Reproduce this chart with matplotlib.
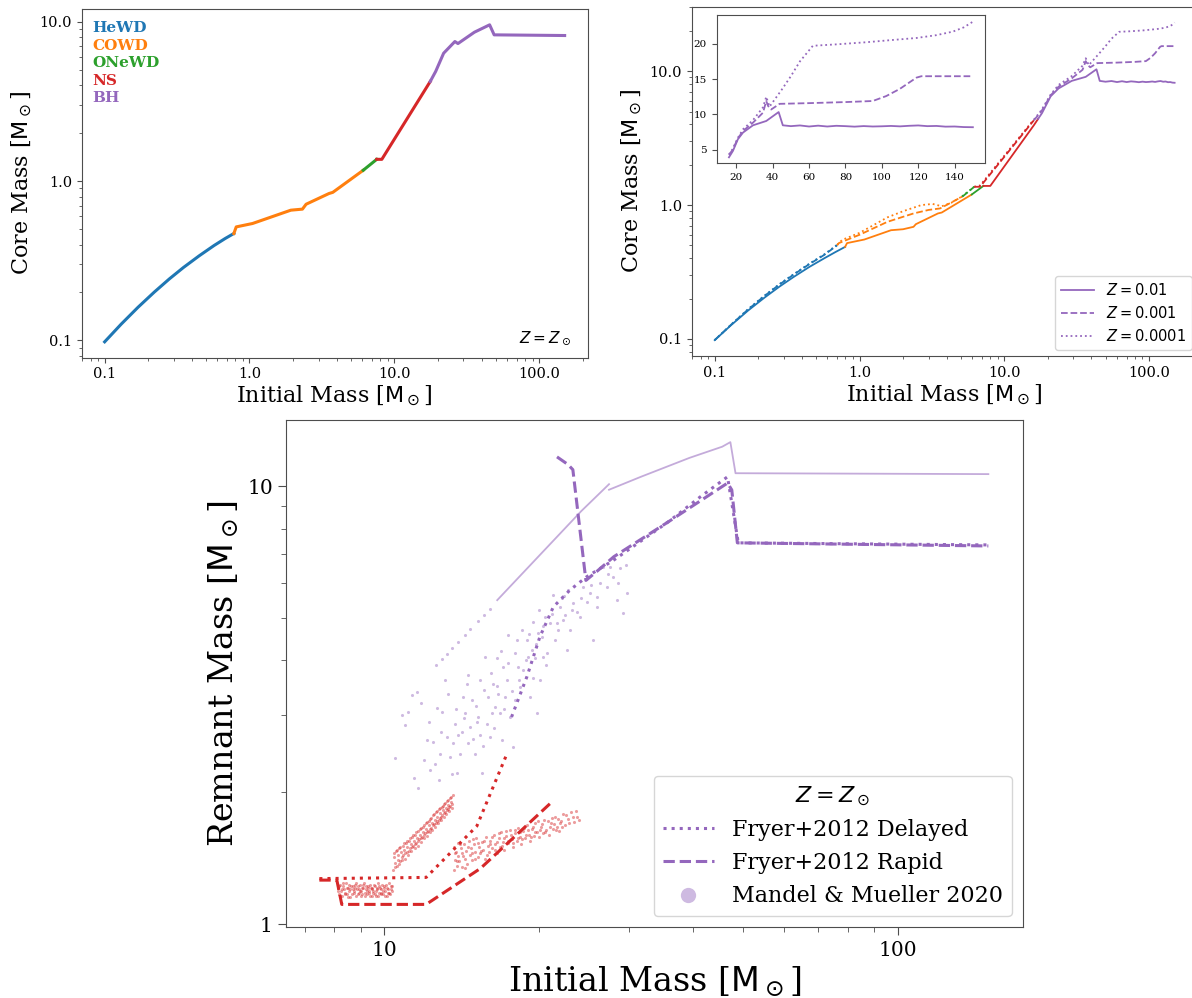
import numpy as np
import matplotlib
matplotlib.use("Agg")
import matplotlib.pyplot as plt
from matplotlib.ticker import FormatStrFormatter, FuncFormatter, NullFormatter
from matplotlib.lines import Line2D

plt.rcParams['font.family'] = ['DejaVu Serif']
plt.rcParams['mathtext.fontset'] = 'dejavusans'

# remnant types and colours
types = ['He', 'CO', 'ONe', 'NS', 'BH']
type_names = ['HeWD', 'COWD', 'ONeWD', 'NS', 'BH']
type_colors = ['C0', 'C1', 'C2', 'C3', 'C4']

# ---- top left: core mass at solar Z ----
sol_m = [0.1, 0.13, 0.17, 0.22, 0.28, 0.35, 0.45, 0.57, 0.68, 0.78,
         0.81, 1.05, 1.93, 2.32, 2.46, 3.54, 3.76, 6.1,
         7.56,
         8.2, 17.7,
         19.3, 21.9, 26.2, 27.5, 35.7, 45.5, 48.9, 150]
sol_mc = [0.098, 0.1265, 0.1615, 0.201, 0.2435, 0.287, 0.34, 0.3945, 0.4365, 0.469,
          0.516, 0.542, 0.657, 0.667, 0.716, 0.836, 0.85, 1.17,
          1.37,
          1.37, 4.22,
          4.88, 6.35, 7.52, 7.3, 8.6, 9.57, 8.28, 8.2]
sol_t = ['He'] * 10 + ['CO'] * 8 + ['ONe'] + ['NS'] * 2 + ['BH'] * 8

# ---- top right: three metallicities ----
z01_m = [0.1, 0.13, 0.17, 0.22, 0.28, 0.35, 0.45, 0.57, 0.68, 0.795,
         0.82, 1.08, 1.65, 2.0, 2.36, 2.45, 3.48, 3.7, 5.96,
         7.17,
         8.0, 16.0, 17.1,
         18.2, 20.9, 23.7, 29.2, 36.5, 43.3, 45.6,
         50, 55, 60, 65, 70, 75, 80, 85, 90, 95, 100, 105, 110, 115, 120,
         125, 130, 135, 140, 145, 150]
z01_mc = [0.098, 0.127, 0.163, 0.203, 0.246, 0.29, 0.345, 0.4, 0.445, 0.487,
          0.52, 0.553, 0.649, 0.66, 0.688, 0.72, 0.866, 0.88, 1.2,
          1.39,
          1.39, 3.95, 4.4,
          4.86, 6.5, 7.44, 8.47, 9.08, 10.34, 8.47,
          8.35, 8.45, 8.3, 8.42, 8.3, 8.4, 8.35, 8.28, 8.36, 8.3, 8.33, 8.38, 8.32, 8.4, 8.45,
          8.35, 8.38, 8.28, 8.3, 8.22, 8.2]
z01_t = ['He'] * 10 + ['CO'] * 9 + ['ONe'] + ['NS'] * 3 + ['BH'] * 28

z001_m = [0.1, 0.13, 0.17, 0.22, 0.28, 0.35, 0.45, 0.57, 0.7,
          0.72, 1.0, 1.56, 2.36, 3.0, 3.6, 5.15,
          6.2,
          6.8, 15.1, 16.0,
          18.0, 20.9, 23.7, 29.2, 34.7, 36.5, 37.5, 39.2, 43.8, 60, 80, 95,
          102.4, 109.8, 119, 121.7, 150]
z001_mc = [0.098, 0.128, 0.166, 0.209, 0.255, 0.302, 0.362, 0.424, 0.5,
           0.52, 0.6, 0.75, 0.866, 0.92, 0.944, 1.16,
           1.37,
           1.37, 3.98, 4.3,
           5.0, 6.6, 7.67, 8.84, 10.25, 11.9, 11.2, 10.7, 11.5, 11.6, 11.75, 11.9,
           12.6, 13.6, 15.2, 15.4, 15.4]
z001_t = ['He'] * 9 + ['CO'] * 7 + ['ONe'] + ['NS'] * 3 + ['BH'] * 17

z0001_m = [0.1, 0.13, 0.17, 0.22, 0.28, 0.35, 0.45, 0.57, 0.7,
           0.76, 1.0, 1.56, 2.0, 2.67, 3.2, 3.7, 4.3, 5.1,
           6.2,
           6.8, 15.0, 16.0,
           18.0, 20.9, 23.7, 29.2, 34.7, 36.5, 38.3, 45, 50, 55, 62.1, 75, 91.5,
           105, 119, 130, 139, 145, 150]
z0001_mc = [0.098, 0.128, 0.167, 0.21, 0.257, 0.304, 0.365, 0.428, 0.505,
            0.55, 0.62, 0.81, 0.9, 1.0, 1.02, 0.98, 1.04, 1.16,
            1.37,
            1.4, 4.0, 4.35,
            5.1, 6.7, 7.9, 9.2, 11.0, 12.5, 11.1, 13.5, 15.4, 17.5, 19.7, 19.9, 20.2,
            20.5, 20.8, 21.2, 21.7, 22.3, 23.1]
z0001_t = ['He'] * 9 + ['CO'] * 9 + ['ONe'] + ['NS'] * 3 + ['BH'] * 19

# ---- bottom: remnant masses ----
delayed_ns_m = [7.48, 12.07, 15.15, 17.27]
delayed_ns_r = [1.27, 1.278, 1.674, 2.42]
delayed_bh_m = [17.7, 18.96, 20.1, 21.35, 23.0, 24.8, 28.0, 35.7, 41.3, 46.6, 48.9, 150]
delayed_bh_r = [2.97, 3.67, 4.53, 5.30, 5.79, 6.21, 6.78, 8.28, 9.46, 10.5, 7.42, 7.34]
rapid_ns_m = [7.48, 8.09, 8.27, 12.07, 15.4, 21.2]
rapid_ns_r = [1.26, 1.26, 1.109, 1.109, 1.34, 1.90]
rapid_bh_m = [21.7, 22.8, 23.3, 24.7, 26.0, 28.0, 35.7, 46.6, 47.5, 48.7, 150]
rapid_bh_r = [11.66, 11.2, 10.9, 6.09, 6.4, 6.9, 8.28, 10.16, 9.8, 7.42, 7.3]

# Mandel & Mueller: full-fallback sequence
mm_line1_m = [16.6, 24.2, 27.4]
mm_line1_r = [5.49, 8.77, 10.1]
mm_line2_m = [27.4, 31.6, 39.3, 45.5, 47.2, 48.3, 150]
mm_line2_r = [9.81, 10.5, 11.6, 12.3, 12.6, 10.7, 10.65]

# Mandel & Mueller: NS samples, flat group (8-10.4 Msun)
mm_ns_flat_m = [8.12, 8.15, 8.2, 8.24, 8.27, 8.31, 8.36, 8.4, 8.43, 8.47, 8.52, 8.56, 8.6,
                8.63, 8.68, 8.72, 8.77, 8.81, 8.85, 8.9, 8.94, 8.98, 9.03, 9.07, 9.11,
                9.16, 9.2, 9.25, 9.29, 9.33, 9.38, 9.42, 9.47, 9.51, 9.56, 9.6, 9.65,
                9.7, 9.74, 9.79, 9.84, 9.88, 9.93, 9.98, 10.03, 10.08, 10.13, 10.18,
                10.24, 10.3, 10.36,
                8.13, 8.18, 8.22, 8.29, 8.33, 8.38, 8.45, 8.5, 8.54, 8.58, 8.65, 8.7,
                8.75, 8.79, 8.83, 8.88, 8.92, 8.96, 9.01, 9.05, 9.09, 9.14, 9.18, 9.23,
                9.27, 9.31, 9.36, 9.4, 9.45, 9.49, 9.53, 9.58, 9.63, 9.67, 9.72, 9.77,
                9.81, 9.86, 9.91, 9.96, 10.0, 10.06, 10.11, 10.16, 10.21, 10.27, 10.33, 10.38]
mm_ns_flat_r = [1.21, 1.17, 1.23, 1.19, 1.16, 1.22, 1.2, 1.18, 1.24, 1.17, 1.21, 1.19, 1.15,
                1.22, 1.2, 1.18, 1.23, 1.16, 1.2, 1.22, 1.18, 1.19, 1.16, 1.21, 1.23,
                1.18, 1.2, 1.17, 1.22, 1.19, 1.16, 1.21, 1.2, 1.18, 1.23, 1.17, 1.19,
                1.21, 1.16, 1.22, 1.18, 1.2, 1.17, 1.21, 1.19, 1.23, 1.16, 1.2,
                1.18, 1.22, 1.19,
                1.19, 1.22, 1.16, 1.2, 1.24, 1.17, 1.21, 1.15, 1.23, 1.2, 1.17, 1.22,
                1.19, 1.21, 1.24, 1.17, 1.2, 1.23, 1.19, 1.17, 1.21, 1.24, 1.16, 1.22,
                1.19, 1.21, 1.18, 1.23, 1.16, 1.21, 1.19, 1.22, 1.16, 1.2, 1.24, 1.18,
                1.21, 1.17, 1.23, 1.19, 1.22, 1.16, 1.21, 1.18, 1.24, 1.17, 1.2, 1.22]

# NS samples, rising group (10.4-13.6 Msun)
mm_ns_rise_m = [10.42, 10.45, 10.5, 10.53, 10.58, 10.62, 10.66, 10.7, 10.74, 10.78, 10.82,
                10.86, 10.9, 10.94, 10.98, 11.02, 11.06, 11.1, 11.14, 11.18, 11.22, 11.26,
                11.3, 11.34, 11.38, 11.42, 11.46, 11.5, 11.54, 11.58, 11.62, 11.66, 11.7,
                11.74, 11.78, 11.82, 11.86, 11.9, 11.94, 11.98, 12.02, 12.06, 12.1, 12.14,
                12.18, 12.22, 12.26, 12.3, 12.34, 12.38, 12.42, 12.46, 12.5, 12.54, 12.58,
                12.62, 12.66, 12.7, 12.74, 12.78, 12.82, 12.86, 12.9, 12.94, 12.98, 13.02,
                13.06, 13.1, 13.14, 13.18, 13.22, 13.26, 13.3, 13.34, 13.38, 13.42, 13.46,
                13.5, 13.55, 13.6,
                10.44, 10.52, 10.6, 10.68, 10.76, 10.84, 10.92, 11.0, 11.08, 11.16, 11.24,
                11.32, 11.4, 11.48, 11.56, 11.64, 11.72, 11.8, 11.88, 11.96, 12.04, 12.12,
                12.2, 12.28, 12.36, 12.44, 12.52, 12.6, 12.68, 12.76, 12.84, 12.92, 13.0,
                13.08, 13.16, 13.24, 13.32, 13.4, 13.48, 13.56]
mm_ns_rise_r = [1.33, 1.42, 1.38, 1.47, 1.36, 1.44, 1.40, 1.49, 1.39, 1.46, 1.42,
                1.51, 1.44, 1.48, 1.41, 1.53, 1.46, 1.50, 1.44, 1.55, 1.49, 1.52,
                1.47, 1.58, 1.51, 1.55, 1.49, 1.60, 1.53, 1.57, 1.51, 1.63, 1.56,
                1.60, 1.54, 1.66, 1.58, 1.62, 1.57, 1.68, 1.61, 1.65, 1.59, 1.71,
                1.63, 1.68, 1.62, 1.74, 1.66, 1.70, 1.64, 1.77, 1.69, 1.73, 1.67,
                1.80, 1.72, 1.76, 1.70, 1.83, 1.75, 1.79, 1.73, 1.85, 1.77, 1.82,
                1.76, 1.88, 1.80, 1.84, 1.78, 1.91, 1.83, 1.87, 1.81, 1.94, 1.86,
                1.90, 1.84, 1.97,
                1.45, 1.35, 1.48, 1.37, 1.50, 1.40, 1.53, 1.45, 1.55, 1.47, 1.57,
                1.50, 1.60, 1.52, 1.62, 1.55, 1.65, 1.57, 1.67, 1.60, 1.70, 1.62,
                1.72, 1.65, 1.75, 1.68, 1.78, 1.70, 1.81, 1.73, 1.84, 1.76, 1.86,
                1.79, 1.89, 1.82, 1.92, 1.85, 1.95, 1.88]

# NS samples, upper group (13.6-24 Msun)
mm_ns_high_m = [13.65, 13.7, 13.75, 13.8, 13.85, 13.9, 13.95, 14.0, 14.1, 14.15, 14.2,
                14.3, 14.35, 14.45, 14.5, 14.6, 14.7, 14.75, 14.85, 14.95, 15.0, 15.1,
                15.2, 15.3, 15.4, 15.5, 15.6, 15.7, 15.8, 15.9, 16.0, 16.1, 16.2, 16.35,
                16.45, 16.55, 16.7, 16.8, 16.9, 17.0, 17.15, 17.3, 17.4, 17.55, 17.7,
                17.8, 17.95, 18.1, 18.25, 18.4, 18.5, 18.65, 18.8, 18.95, 19.1, 19.25,
                19.4, 19.55, 19.7, 19.85, 20.0, 20.2, 20.35, 20.5, 20.7, 20.9, 21.1,
                21.3, 21.5, 21.7, 21.9, 22.1, 22.3, 22.5, 22.8, 23.1, 23.4, 23.7, 24.0,
                13.72, 13.88, 14.05, 14.25, 14.4, 14.55, 14.8, 14.9, 15.05, 15.25, 15.45,
                15.65, 15.85, 16.05, 16.25, 16.4, 16.6, 16.75, 16.95, 17.1, 17.25, 17.45,
                17.65, 17.85, 18.0, 18.2, 18.35, 18.55, 18.75, 18.9, 19.05, 19.3, 19.5,
                19.65, 19.9, 20.1, 20.3, 20.6, 20.8, 21.0, 21.2, 21.4, 21.6, 21.8, 22.0,
                22.2, 22.6, 22.9, 23.3, 23.6]
mm_ns_high_r = [1.33, 1.50, 1.40, 1.46, 1.36, 1.53, 1.43, 1.39, 1.49, 1.35, 1.45,
                1.52, 1.41, 1.47, 1.37, 1.55, 1.44, 1.49, 1.40, 1.52, 1.46, 1.57,
                1.42, 1.50, 1.45, 1.54, 1.48, 1.41, 1.58, 1.51, 1.46, 1.55, 1.49, 1.60,
                1.52, 1.45, 1.57, 1.50, 1.62, 1.54, 1.48, 1.59, 1.53, 1.64, 1.56,
                1.50, 1.61, 1.55, 1.66, 1.58, 1.52, 1.63, 1.57, 1.68, 1.60, 1.55,
                1.65, 1.59, 1.70, 1.62, 1.58, 1.67, 1.61, 1.73, 1.64, 1.60, 1.70,
                1.65, 1.76, 1.67, 1.63, 1.72, 1.78, 1.68, 1.74, 1.80, 1.71, 1.76, 1.73,
                1.45, 1.39, 1.52, 1.43, 1.34, 1.50, 1.45, 1.56, 1.41, 1.53, 1.47,
                1.55, 1.44, 1.52, 1.58, 1.48, 1.54, 1.61, 1.51, 1.57, 1.63, 1.55,
                1.60, 1.53, 1.64, 1.57, 1.62, 1.56, 1.66, 1.60, 1.64, 1.58, 1.67,
                1.62, 1.72, 1.64, 1.69, 1.62, 1.72, 1.67, 1.75, 1.69, 1.64, 1.74, 1.70,
                1.67, 1.77, 1.70, 1.76, 1.81]

# Mandel & Mueller: BH samples
mm_bh_m = [10.5, 10.82, 11.15, 11.32, 11.57, 11.66, 11.93, 12.11, 12.29, 12.47,
           12.66, 12.76, 12.85, 12.95, 13.14, 13.24, 13.44, 13.64, 13.74, 13.85,
           13.95, 14.16, 14.27, 14.38, 14.48, 14.59, 14.70, 14.81, 15.03, 15.15,
           15.26, 15.38, 15.49, 15.61, 15.72, 15.84, 16.08, 16.20, 16.32, 16.44,
           16.57, 16.69, 16.82, 16.94, 17.07, 17.20, 17.33, 17.46, 17.59, 17.85,
           17.99, 18.12, 18.26, 18.39, 18.67, 18.95, 19.09, 19.23, 19.38, 19.52,
           19.67, 19.82, 19.96, 20.11, 20.27, 20.42, 20.57, 20.73, 21.04, 21.36,
           21.51, 21.68, 22.0, 22.17, 22.33, 22.50, 22.67, 22.84, 23.01, 23.36,
           23.71, 24.06, 24.42, 24.79, 25.16, 25.54, 25.93, 26.31, 26.71, 27.12,
           27.53, 27.94, 28.36, 28.79, 29.22, 29.66,
           11.0, 11.45, 11.8, 12.2, 12.55, 12.9, 13.3, 13.55, 13.8, 14.05, 14.3,
           14.55, 14.9, 15.1, 15.35, 15.55, 15.9, 16.15, 16.35, 16.6, 16.9, 17.15,
           17.4, 17.7, 18.0, 18.3, 18.55, 18.85, 19.15, 19.45, 19.75, 20.0, 20.35,
           20.7, 21.2, 21.8, 22.4, 23.2, 24.2, 25.3, 26.0, 27.3, 28.5, 29.5,
           12.6, 12.95, 13.25, 13.54, 13.9, 14.35, 14.7, 15.2, 15.65, 16.05]
mm_bh_r = [2.39, 3.00, 3.05, 3.33, 3.39, 2.04, 2.37, 2.63, 2.25, 2.61,
           3.11, 2.13, 2.45, 3.05, 3.61, 2.68, 2.41, 2.59, 2.87, 2.21,
           2.70, 2.75, 3.30, 3.03, 3.54, 2.59, 2.82, 3.25, 2.45, 2.90,
           2.97, 2.70, 2.21, 3.42, 4.08, 2.87, 2.68, 3.03, 3.54, 3.13,
           4.04, 3.36, 3.03, 2.63, 3.87, 3.30, 3.61, 4.57, 2.97, 2.54,
           3.25, 4.45, 3.87, 3.48, 3.80, 4.45, 4.08, 3.30, 4.22, 4.90,
           4.04, 3.03, 4.61, 3.61, 4.53, 4.08, 5.03, 4.15, 4.86, 5.64,
           4.45, 4.86, 5.30, 5.54, 4.94, 5.08, 4.22, 5.79, 4.69, 5.40,
           5.17, 5.03, 5.89, 5.44, 5.69, 4.45, 5.59, 6.00, 6.54, 5.89,
           6.54, 6.21, 5.49, 6.49, 5.12, 5.69,
           2.85, 2.15, 3.2, 2.9, 2.32, 2.75, 3.35, 2.2, 3.1, 2.45, 2.95,
           3.7, 2.65, 3.15, 3.6, 2.55, 3.3, 3.75, 2.8, 3.5, 4.2, 3.1,
           3.95, 3.4, 4.15, 3.6, 4.7, 4.0, 4.6, 3.65, 4.35, 5.2, 4.8,
           3.9, 5.1, 4.7, 5.6, 5.2, 5.55, 5.95, 5.3, 6.3, 6.0, 6.6,
           3.90, 4.03, 4.13, 4.26, 4.40, 4.56, 4.71, 4.92, 5.08, 5.25]


def plot_types(ax, m, mc, kinds, **kw):
    m = np.asarray(m)
    mc = np.asarray(mc)
    kinds = np.asarray(kinds)
    for k, c in zip(types, type_colors):
        idx = np.flatnonzero(kinds == k)
        if idx.size == 0:
            continue
        if idx[0] > 0:
            idx = np.r_[idx[0] - 1, idx]
        ax.plot(m[idx], mc[idx], color=c, **kw)


def style_axes(ax, labelsize):
    for sp in ax.spines.values():
        sp.set_color('0.3')
    ax.tick_params(which='both', colors='0.3', labelcolor='k', labelsize=labelsize)


def log_fmt(ax, fmt):
    ax.xaxis.set_major_formatter(fmt)
    ax.yaxis.set_major_formatter(fmt)
    ax.xaxis.set_minor_formatter(NullFormatter())
    ax.yaxis.set_minor_formatter(NullFormatter())


fig = plt.figure(figsize=(11.92, 9.98), dpi=100)

# top left
ax1 = fig.add_axes([0.0685, 0.6416, 0.4245, 0.3494])
plot_types(ax1, sol_m, sol_mc, sol_t, lw=2.2)
ax1.set_xscale('log')
ax1.set_yscale('log')
log_fmt(ax1, FormatStrFormatter('%.1f'))
style_axes(ax1, 10.5)
ax1.set_xlabel(r'Initial Mass [$\mathrm{M}_\odot$]', fontsize=16, labelpad=2)
ax1.set_ylabel(r'Core Mass [$\mathrm{M}_\odot$]', fontsize=16)
for i, (name, col) in enumerate(zip(type_names, type_colors)):
    ax1.text(0.022, 0.9455 - 0.0504 * i, name, color=col, fontweight='bold',
             fontsize=11, va='center', ha='left', transform=ax1.transAxes)
ax1.text(0.966, 0.056, r'$Z=Z_\odot$', ha='right', va='center', fontsize=11,
         transform=ax1.transAxes)

# top right
ax2 = fig.add_axes([0.5803, 0.6433, 0.4244, 0.35])
z_sets = [(z01_m, z01_mc, z01_t, '-', r'$Z=0.01$'),
          (z001_m, z001_mc, z001_t, '--', r'$Z=0.001$'),
          (z0001_m, z0001_mc, z0001_t, ':', r'$Z=0.0001$')]
for m, mc, t, ls, lab in z_sets:
    plot_types(ax2, m, mc, t, lw=1.3, ls=ls)
ax2.set_xscale('log')
ax2.set_yscale('log')
log_fmt(ax2, FormatStrFormatter('%.1f'))
style_axes(ax2, 10.5)
ax2.set_xlabel(r'Initial Mass [$\mathrm{M}_\odot$]', fontsize=16, labelpad=2)
ax2.set_ylabel(r'Core Mass [$\mathrm{M}_\odot$]', fontsize=16)
handles = [Line2D([], [], color='C4', lw=1.3, ls=ls) for _, _, _, ls, _ in z_sets]
ax2.legend(handles, [s[4] for s in z_sets], loc='lower right', fontsize=10.5,
           handlelength=2.3, borderaxespad=0.4)

# inset
axi = fig.add_axes([0.6013, 0.8367, 0.2251, 0.1483])
for m, mc, t, ls, lab in z_sets:
    m = np.asarray(m)
    mc = np.asarray(mc)
    sel = m >= 16
    axi.plot(m[sel], mc[sel], color='C4', lw=1.3, ls=ls)
axi.set_xlim(9.3, 156.7)
axi.set_ylim(3.15, 24.05)
axi.set_xticks([20, 40, 60, 80, 100, 120, 140])
axi.set_yticks([5, 10, 15, 20])
style_axes(axi, 7.5)

# bottom
ax3 = fig.add_axes([0.2399, 0.0708, 0.6181, 0.5083])
for xs, ys in [(mm_ns_flat_m, mm_ns_flat_r), (mm_ns_rise_m, mm_ns_rise_r),
               (mm_ns_high_m, mm_ns_high_r)]:
    ax3.scatter(xs, ys, s=5, color='C3', alpha=0.45, lw=0)
ax3.scatter(mm_bh_m, mm_bh_r, s=5, color='C4', alpha=0.45, lw=0)
ax3.plot(mm_line1_m, mm_line1_r, color='C4', alpha=0.55, lw=1.3)
ax3.plot(mm_line2_m, mm_line2_r, color='C4', alpha=0.55, lw=1.3)
ax3.plot(delayed_ns_m, delayed_ns_r, color='C3', ls=':', lw=2.2)
ax3.plot(delayed_bh_m, delayed_bh_r, color='C4', ls=':', lw=2.2)
ax3.plot(rapid_ns_m, rapid_ns_r, color='C3', ls='--', lw=2.2)
ax3.plot(rapid_bh_m, rapid_bh_r, color='C4', ls='--', lw=2.2)
ax3.set_xscale('log')
ax3.set_yscale('log')
ax3.set_xlim(6.44, 175)
ax3.set_ylim(0.983, 14.15)
log_fmt(ax3, FuncFormatter(lambda v, _: f'{v:g}'))
style_axes(ax3, 14.5)
ax3.tick_params(which='major', length=6)
ax3.tick_params(which='minor', length=3.5)
ax3.set_xlabel(r'Initial Mass [$\mathrm{M}_\odot$]', fontsize=24, labelpad=4)
ax3.set_ylabel(r'Remnant Mass [$\mathrm{M}_\odot$]', fontsize=24)
leg_handles = [Line2D([], [], color='C4', ls=':', lw=2.2),
               Line2D([], [], color='C4', ls='--', lw=2.2),
               Line2D([], [], color='C4', ls='none', marker='o', ms=11, alpha=0.45, mew=0)]
ax3.legend(leg_handles, ['Fryer+2012 Delayed', 'Fryer+2012 Rapid', 'Mandel & Mueller 2020'],
           loc='lower right', fontsize=16, title=r'$Z=Z_\odot$', title_fontsize=16,
           handlelength=2.3)

fig.savefig('out.png', dpi=100)
